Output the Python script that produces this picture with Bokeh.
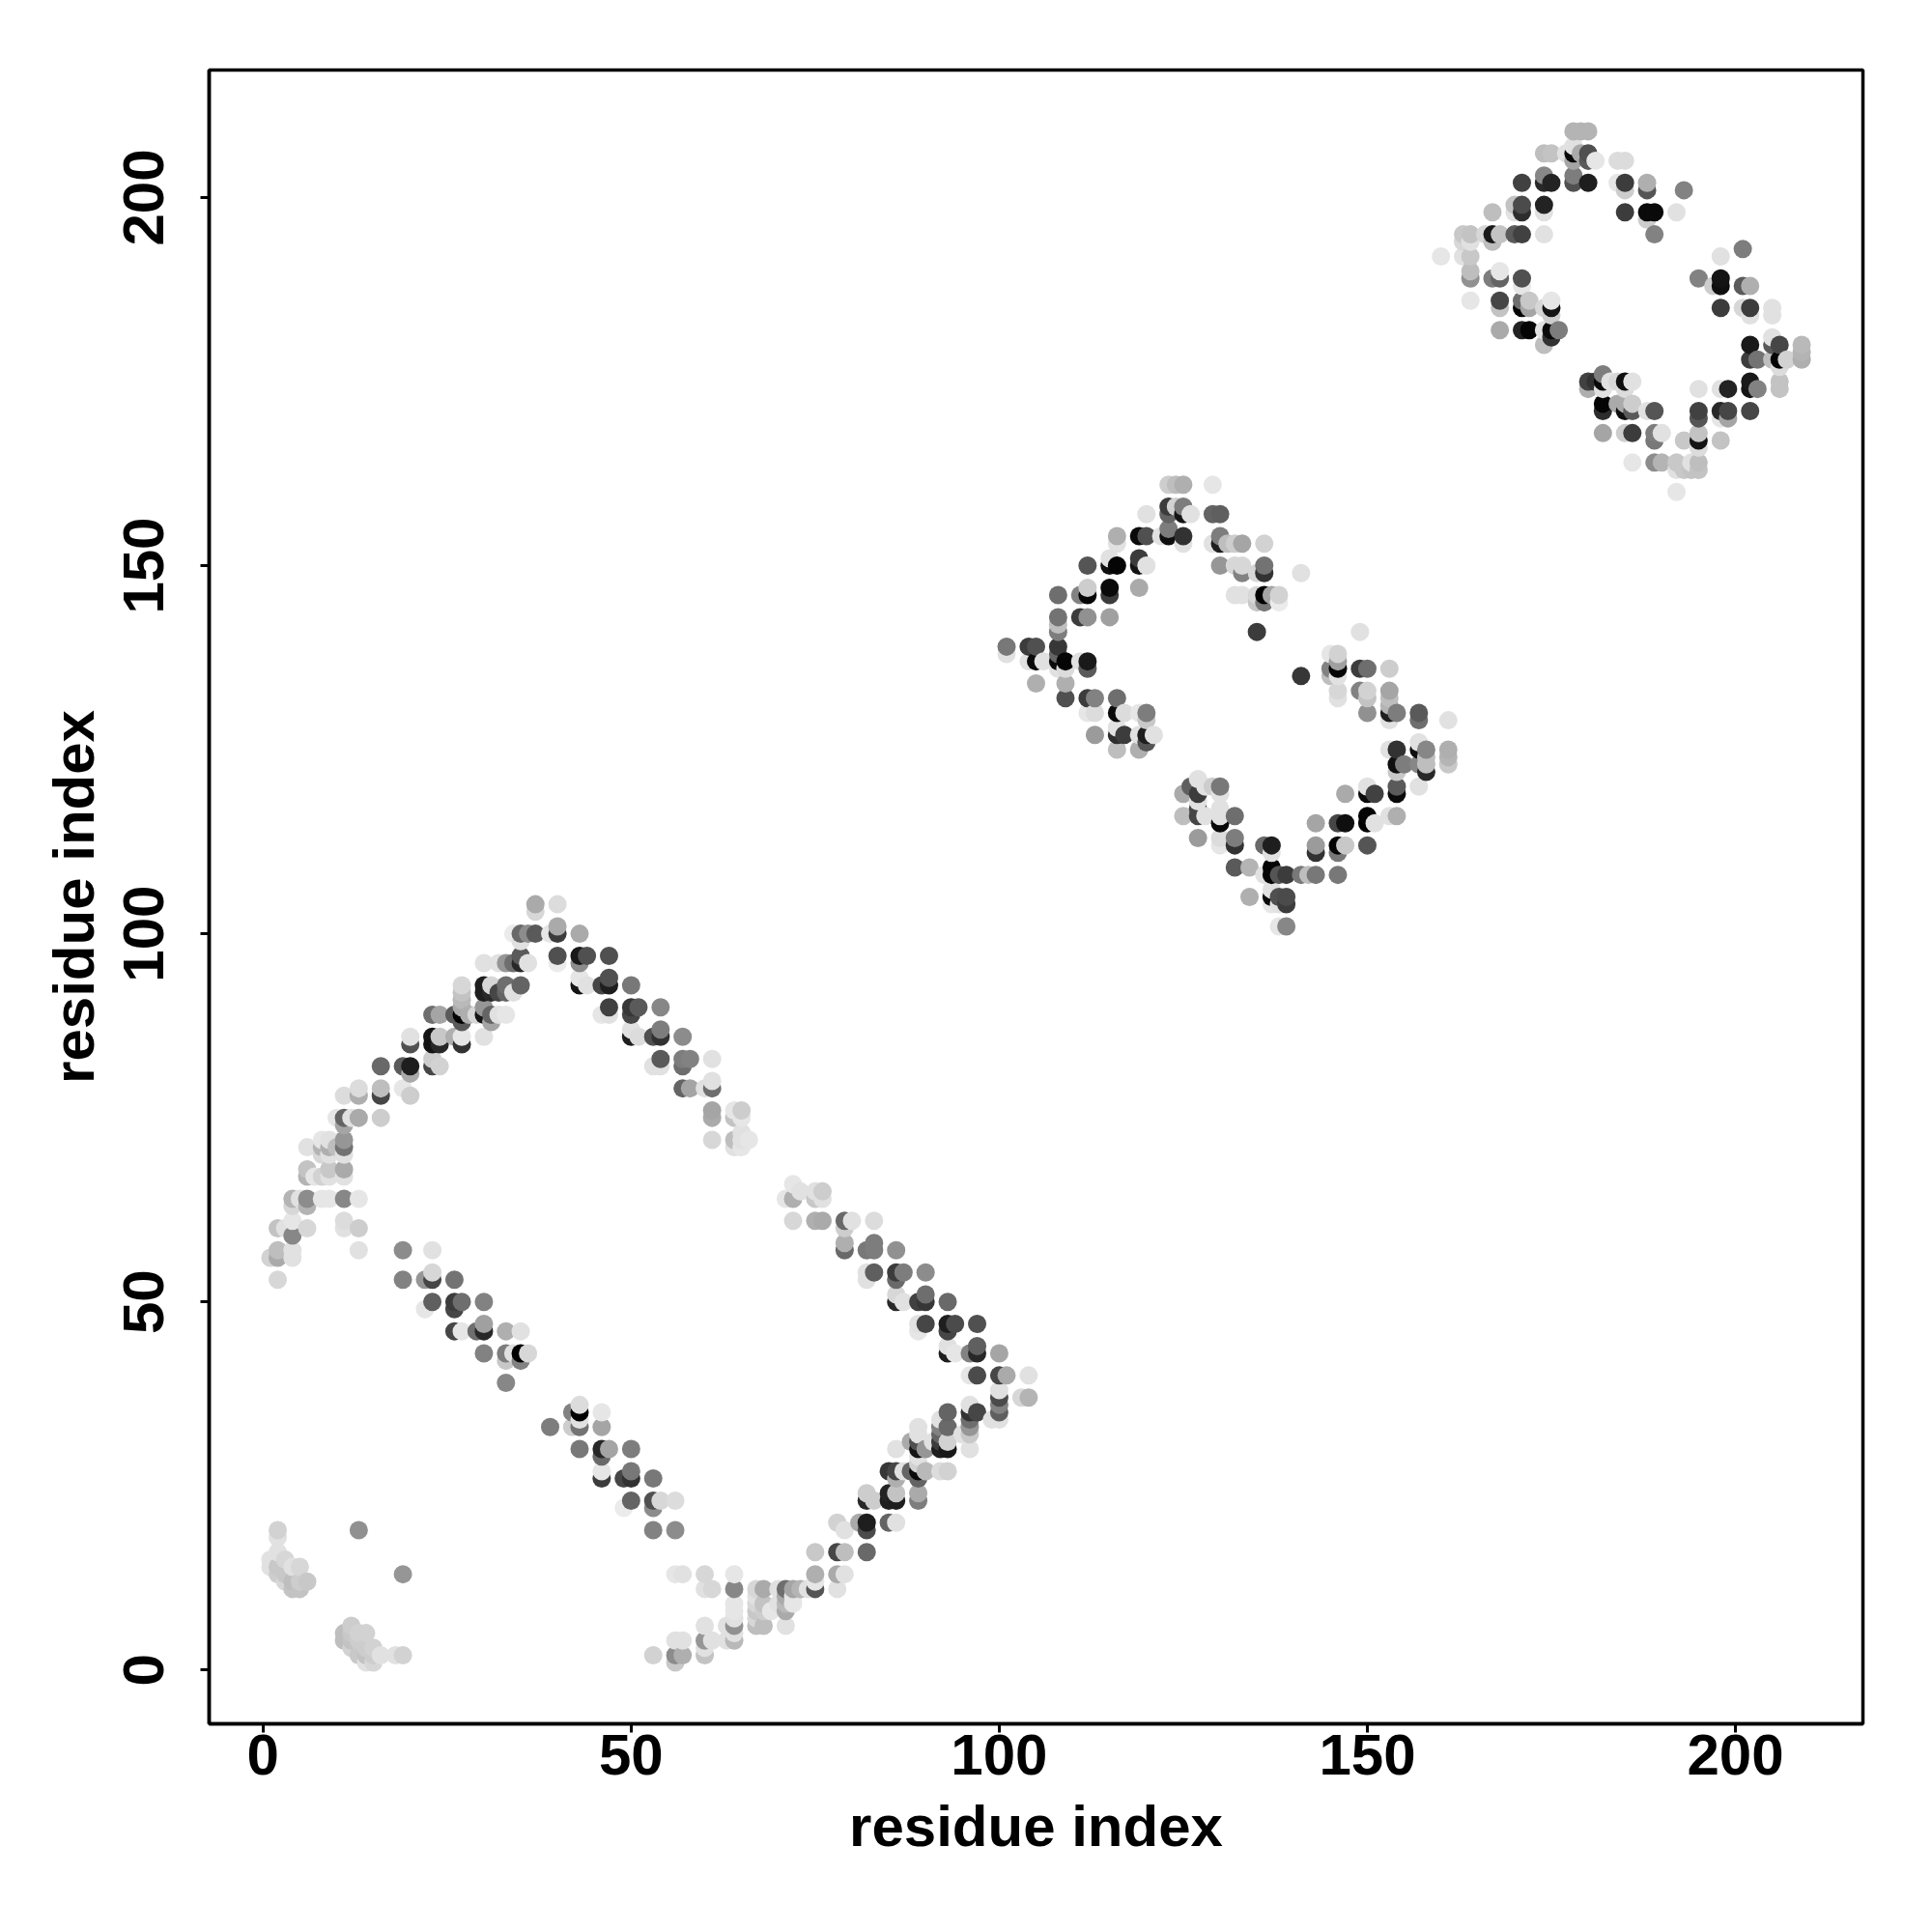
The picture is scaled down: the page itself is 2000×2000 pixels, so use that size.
from bokeh.plotting import figure
from bokeh.models import ColumnDataSource, FixedTicker, Range1d
from bokeh.embed import file_html
from bokeh.resources import INLINE

# each entry: residue i, residue j, grey level
corner_low = [
(13,19,144),(19,13,150),(2,19,210),(2,18,225),(2,16,225),(3,15,215),(1,15,225),(1,14,225),(5,14,215),(4,14,225),
(2,14,200),(3,13,200),(2,13,205),(6,12,200),(4,12,190),(5,12,205),(5,11,195),(4,11,195),(3,12,215),
(11,5,190),(12,6,205),(11,4,190),(12,5,200),(14,5,210),(13,5,210),(12,3,210),(13,4,205),(15,3,210),(13,2,200),
(14,2,195),(16,2,225),(14,1,225),(15,1,215),(18,2,225),(19,2,210),(14,3,205),(15,2,205),(12,4,195),
]
arm_lower_left = [
(33,39,135),(30,43,130),(33,43,125),(33,42,200),(34,43,225),(35,43,0),(35,42,130),(36,43,215),
(26,46,70),(27,46,230),(29,46,110),(30,46,40),(30,47,160),(33,46,175),(35,46,225),(26,49,70),
(39,33,125),(42,33,205),(43,33,115),(43,34,225),(43,35,0),(43,36,220),(42,35,130),(46,35,230),(46,33,165),
(43,30,120),(46,30,40),(46,29,105),(47,30,165),(50,30,125),
(46,26,60),(46,27,230),(49,26,70),(50,26,50),(50,27,120),(53,26,120),
(49,22,235),(50,23,100),(53,23,80),(53,22,140),(54,23,215),(56,23,220),(53,19,130),(56,19,140),(56,13,230),
]
arm_right_top = [
(71,64,230),(72,66,230),(72,64,175),(73,65,225),(75,64,200),(76,64,225),(75,65,225),(76,65,205),
(72,61,215),(75,61,175),(76,61,170),(79,61,105),(79,60,205),(80,61,225),(83,61,220),
(79,57,105),(79,58,175),(82,57,120),(83,57,125),(83,58,125),(86,57,145),
(82,53,225),(82,54,225),(83,54,95),(86,53,105),(86,54,60),(87,54,125),(90,54,140),
(86,50,40),(86,51,215),(87,50,225),(89,50,65),(90,50,55),(90,51,110),(93,50,105),
(89,47,225),(89,46,230),(90,47,70),(93,47,30),(93,46,70),(94,47,75),(97,47,80),
(93,44,225),(93,43,30),(94,43,230),(96,43,130),(97,43,40),(97,44,95),(100,43,165),
(96,40,230),(97,40,75),(100,40,70),(101,40,170),(104,40,225),
(100,37,75),(103,37,215),(104,37,180),(100,38,225),
]
arm_right_bottom = [
(100,36,130),(100,35,95),(100,34,225),(99,34,225),(96,36,225),(96,35,50),(97,35,70),(96,34,110),(96,33,150),(96,32,200),(96,30,225),
(93,35,100),(93,33,105),(92,34,225),(92,33,130),(92,32,100),(92,31,60),(93,31,210),(93,30,25),(92,30,30),(95,32,225),(91,31,225),
(89,33,225),(89,32,225),(88,31,170),(89,31,80),(89,30,20),(90,30,150),(86,30,225),
(85,27,55),(86,27,70),(87,27,225),(88,27,100),(89,27,10),(89,29,225),(89,28,210),(90,27,185),(92,27,220),(93,27,210),(89,26,100),(86,26,175),
(89,24,170),(89,23,125),(82,24,205),(85,24,35),(86,24,195),(85,23,30),(86,23,30),(82,23,40),(83,23,205),
(78,20,210),(81,20,170),(79,19,225),(82,20,30),(82,19,75),(85,20,100),(86,20,225),
(75,16,200),(78,16,70),(79,16,190),(82,16,105),
(75,13,175),(78,13,170),(79,13,225),(57,13,225),(60,13,215),(64,13,230),
(75,11,85),(75,12,230),(78,11,225),(60,11,225),(61,11,215),(64,11,135),(67,11,215),(68,11,170),(70,11,225),(71,11,110),(72,11,165),(74,11,225),(73,11,180),
]
arm_bottom = [
(64,8,230),(64,9,230),(64,6,145),(64,7,225),(64,4,185),(64,5,225),
(67,10,225),(67,9,215),(67,8,200),(67,6,190),(67,7,215),(68,9,195),(68,8,205),(68,6,190),(69,8,230),(70,9,225),
(71,10,170),(71,9,185),(71,8,170),(71,6,225),(72,9,230),(72,10,230),
(60,6,225),(63,6,225),(63,4,225),(61,4,225),(60,4,150),(60,2,195),(60,3,225),
(57,4,225),(56,4,225),(56,2,140),(57,2,175),(56,1,200),(53,2,210),
]
arm_upper_right = [
(37,104,170),(37,103,215),(40,104,220),
(34,100,235),(35,100,105),(36,100,140),(37,100,90),(39,100,230),(40,100,60),(40,101,170),(43,100,170),(35,99,225),
(40,97,80),(40,96,235),(43,97,25),(44,97,80),(43,96,140),(47,97,80),
(43,93,20),(43,94,230),(44,93,225),(46,93,70),(47,93,30),(47,94,80),(50,93,120),
(47,90,65),(46,89,230),(47,89,225),(50,90,55),(50,89,70),(51,90,90),(54,90,135),
(50,87,225),(50,86,30),(51,86,220),(53,86,80),(54,86,50),(54,87,125),(57,86,140),
(53,82,225),(54,82,225),(54,83,90),(57,83,125),(57,82,110),(58,83,130),(61,83,225),
(57,79,100),(58,79,165),(60,79,225),(61,79,110),(61,80,225),
(61,76,165),(61,75,170),(64,76,230),(65,76,205),(64,75,195),(65,75,230),
(61,72,215),(64,72,190),(65,72,225),(66,72,230),(64,71,225),(65,71,230),(65,73,225),
]
arm_upper_left = [
(30,96,225),(32,96,225),(33,96,150),(34,96,110),(35,97,90),(35,96,40),(36,96,225),
(27,93,215),(27,92,195),(30,93,30),(30,92,30),(31,93,215),(31,92,40),(32,92,70),(33,93,110),(33,92,100),(34,92,225),(35,93,100),
(23,89,110),(24,89,165),(26,89,90),(27,89,0),(27,90,170),(27,91,185),(28,89,175),(29,89,215),(30,89,20),(30,90,150),(31,89,100),(31,88,165),(32,89,225),(33,89,230),(27,88,90),
(20,86,225),(20,85,80),(23,86,20),(23,85,20),(24,86,200),(24,85,40),(26,86,175),(27,86,230),(27,85,50),(30,86,225),
(16,82,105),(19,82,90),(20,82,30),(20,81,170),(23,82,70),(23,83,205),(24,82,210),
(19,79,230),(20,78,205),(11,78,220),(13,79,220),(13,78,175),(16,79,190),(16,78,70),
(10,75,230),(11,75,100),(11,74,165),(12,75,225),(13,75,170),(16,75,205),
(6,71,225),(8,72,230),(9,72,225),(8,71,180),(9,71,175),(10,71,190),(11,72,150),(11,71,115),(8,70,215),(9,70,225),(11,70,225),
(6,68,195),(6,67,180),(7,67,230),(8,67,210),(9,68,200),(9,67,225),(11,68,170),(11,67,225),
(4,64,180),(5,64,225),(6,64,140),(6,63,180),(4,63,215),(8,64,230),(9,64,230),(11,64,135),(13,64,230),
(2,60,195),(3,60,225),(4,59,135),(4,61,230),(6,60,215),(11,61,220),(11,60,225),(13,60,205),
(1,56,210),(2,57,190),(2,56,170),(4,57,225),(4,56,225),(13,57,225),(19,57,140),(23,57,225),(2,53,215),
(19,53,130),(22,53,150),(23,53,70),(23,54,215),(26,53,115),(23,50,95),(26,50,60),(27,50,110),(30,50,130),(22,49,230),
]
lobe2_top = [
(123,161,205),(124,161,190),(125,161,175),(129,161,230),
(123,158,60),(124,158,210),(125,158,125),(123,157,100),(125,157,20),(126,157,225),(120,157,225),(129,157,100),(130,157,95),
(116,154,175),(116,153,225),(119,154,10),(120,154,80),(122,154,225),(123,154,15),(123,155,125),(125,154,50),(125,153,225),
(130,154,125),(130,153,30),(129,153,225),(131,153,190),(132,153,205),(133,153,165),(136,153,210),
(112,150,85),(115,151,225),(115,150,15),(116,150,5),(119,151,60),(119,150,20),(120,150,225),
(130,150,150),(132,150,215),(133,150,215),(133,149,130),(135,149,215),(136,150,115),(136,149,50),(141,149,225),
(108,146,110),(111,146,130),(112,146,5),(112,147,205),(115,147,10),(115,146,60),(119,147,170),
(132,146,225),(133,146,225),(135,145,200),(135,146,215),(136,145,120),(136,146,0),(137,146,165),(138,145,235),(138,146,210),
(108,143,115),(108,142,190),(108,141,125),(111,143,60),(112,143,145),(115,143,160),(135,141,60),(149,141,225),
]
lobe2_left = [
(101,139,120),(101,138,225),(104,139,60),(105,139,80),(104,137,225),(105,137,10),(106,137,225),(108,139,55),(108,138,100),(108,137,10),(109,137,5),(108,136,225),(109,136,220),(111,137,225),(112,137,25),(112,136,90),
(105,134,175),(109,134,175),(109,132,80),(112,132,60),(113,132,130),(116,132,110),
(112,130,230),(113,130,220),(116,130,10),(117,130,220),(119,130,230),(120,130,125),(120,129,200),
(113,127,155),(116,128,225),(116,127,45),(117,127,60),(119,127,225),(120,127,30),(120,126,85),(121,127,225),(116,125,190),(119,125,175),
]
lobe2_right = [
(141,135,55),(145,138,230),(146,138,210),(146,137,160),(145,136,130),(146,136,5),(145,135,190),(146,135,225),(149,136,60),(150,136,110),(153,136,205),
(146,133,215),(146,132,225),(149,133,130),(150,133,210),(150,132,195),(153,133,165),(153,132,190),(153,131,180),
(150,130,145),(153,130,30),(154,130,125),(153,129,225),(157,130,90),(157,129,110),(161,129,225),
(153,125,225),(154,125,50),(157,126,225),(157,125,15),(158,125,135),(161,125,175),(158,124,190),(161,124,180),
(154,123,15),(155,123,125),(157,123,135),(158,122,40),(158,123,190),(161,123,200),(154,122,200),
(154,120,90),(154,119,10),(157,120,225),(147,119,170),(150,120,225),(150,119,10),(151,119,65),
]
lobe2_bottom = [
(143,115,165),(146,115,70),(147,115,15),(150,116,5),(150,115,0),(151,115,225),(153,116,225),(154,116,175),
(143,112,155),(143,111,50),(146,112,5),(146,111,120),(147,112,200),(150,112,85),
(132,109,90),(134,109,180),(136,108,225),(137,109,5),(137,108,5),(138,108,85),(139,108,60),(141,108,120),(142,108,190),(143,108,120),(146,108,120),
(136,112,105),(137,112,30),(137,111,225),
(134,105,175),(137,106,225),(137,105,10),(137,104,230),(138,105,80),(139,105,75),(138,104,225),(139,104,60),(138,101,230),(139,101,135),
(125,119,170),(126,120,95),(127,121,225),(127,119,60),(127,118,225),(128,120,225),(129,120,205),(130,120,120),(130,119,225),
(125,116,190),(127,117,70),(127,116,70),(128,116,225),(130,117,225),(130,115,10),(130,116,225),(132,116,110),
(127,113,155),(130,113,220),(130,112,230),(132,113,125),(132,112,50),
]
lobe3_top = [
(178,209,180),(179,209,180),(180,209,180),
(174,206,190),(175,206,195),(177,206,225),(178,207,225),(178,206,10),(178,205,165),(179,206,170),(180,206,80),(180,205,90),(181,205,230),(184,205,220),(185,205,220),
(171,202,65),(174,203,135),(174,202,40),(175,202,35),(178,203,125),(178,202,80),(180,202,30),(184,202,230),(185,202,60),(185,201,205),(188,202,175),(188,201,85),(193,201,130),
(167,198,190),(170,199,195),(170,198,225),(171,199,75),(171,198,45),(174,199,35),(174,198,225),(185,198,60),(188,198,10),(189,198,10),(188,197,205),(192,198,225),
(163,195,200),(164,195,195),(166,195,215),(167,195,25),(168,195,195),(167,194,190),(170,195,90),(171,195,65),(174,195,225),(189,195,130),(163,194,215),(164,194,225),
]
lobe3_left = [
(160,192,230),(163,192,225),(164,192,200),(164,190,190),(164,189,145),(167,189,125),(168,189,100),(168,190,230),(171,189,80),(171,188,230),(164,186,230),
(168,186,70),(168,185,195),(171,186,110),(171,185,5),(172,186,200),(172,185,165),(174,185,215),(175,186,230),(175,185,20),(175,184,205),
(168,182,170),(171,182,35),(172,182,5),(174,182,225),(175,182,10),(175,181,50),(176,182,125),(174,180,190),
]
lobe3_right = [
(198,192,225),(201,193,125),(195,189,130),(197,188,205),(198,189,20),(198,188,15),(201,188,90),(202,188,175),
(198,185,60),(201,185,215),(202,185,60),(202,184,225),(205,185,225),(205,184,225),
(202,180,25),(205,181,225),(205,180,90),(206,180,70),(209,180,185),(209,179,180),(209,178,175),(202,178,60),(203,178,115),(205,178,190),(206,178,5),(206,177,220),(207,178,210),
(202,175,25),(203,174,130),(202,174,20),(206,175,195),(206,174,195),
]
lobe3_bottom = [
(195,174,225),(198,174,225),(199,174,35),(195,171,65),(195,170,85),(198,171,40),(199,171,70),(198,170,230),(199,170,165),(202,171,70),
(193,167,200),(195,168,195),(195,167,20),(195,166,220),(198,167,195),
(186,164,230),(189,164,140),(190,164,180),(192,164,200),(192,163,225),(193,163,200),(194,163,195),(195,164,190),(195,163,195),(194,164,225),(192,160,230),
(180,175,65),(181,175,50),(182,175,10),(182,176,125),(180,174,175),(183,175,225),(184,175,215),(185,175,15),(186,175,225),(182,174,225),(185,174,220),
(182,172,5),(182,171,45),(185,172,170),(184,172,170),(186,172,205),(185,171,15),(186,171,90),(188,171,225),(189,171,85),
(182,168,165),(185,168,205),(186,168,60),(189,168,125),(190,168,225),(189,167,120),
]

x_ticks = [0, 50, 100, 150, 200]
y_ticks = [0, 50, 100, 150, 200]
x_title = "residue index"
y_title = "residue index"

groups = [corner_low, arm_lower_left, arm_right_top, arm_right_bottom, arm_bottom, arm_upper_right,
          arm_upper_left, lobe2_top, lobe2_left, lobe2_right, lobe2_bottom, lobe3_top, lobe3_left,
          lobe3_right, lobe3_bottom]
pts = sorted((t for g in groups for t in g), key=lambda t: (t[0], t[1]))
src = ColumnDataSource(dict(
    x=[t[0] for t in pts],
    y=[t[1] for t in pts],
    c=["#%02x%02x%02x" % (t[2], t[2], t[2]) for t in pts],
))

p = figure(frame_width=1712, frame_height=1712, output_backend="svg", toolbar_location=None,
           x_range=Range1d(-7.32, 217.32), y_range=Range1d(-7.32, 217.32),
           min_border_left=216, min_border_top=72, min_border_right=52, min_border_bottom=170,
           background_fill_color="white", border_fill_color="white")
p.grid.visible = False
p.outline_line_color = "black"
p.outline_line_width = 3.5
p.scatter("x", "y", source=src, size=19, fill_color="c", line_color=None, marker="circle")

for ax, ticks, title in ((p.xaxis[0], x_ticks, x_title), (p.yaxis[0], y_ticks, y_title)):
    ax.ticker = FixedTicker(ticks=ticks)
    ax.axis_label = title
    ax.axis_label_text_font = "Liberation Sans"
    ax.axis_label_text_font_style = "bold"
    ax.axis_label_text_font_size = "60px"
    ax.axis_label_text_color = "black"
    ax.major_label_text_font = "Liberation Sans"
    ax.major_label_text_font_style = "bold"
    ax.major_label_text_font_size = "60px"
    ax.major_label_text_color = "black"
    ax.axis_line_color = "black"
    ax.axis_line_width = 3.5
    ax.major_tick_line_color = "black"
    ax.major_tick_line_width = 3
    ax.major_tick_out = 9
    ax.major_tick_in = 0
    ax.minor_tick_line_color = None

p.xaxis[0].major_label_standoff = 2
p.xaxis[0].axis_label_standoff = 17
p.yaxis[0].major_label_orientation = "vertical"
p.yaxis[0].major_label_standoff = 38
p.yaxis[0].axis_label_standoff = 16

open("out.html", "w").write(file_html(p, INLINE))
